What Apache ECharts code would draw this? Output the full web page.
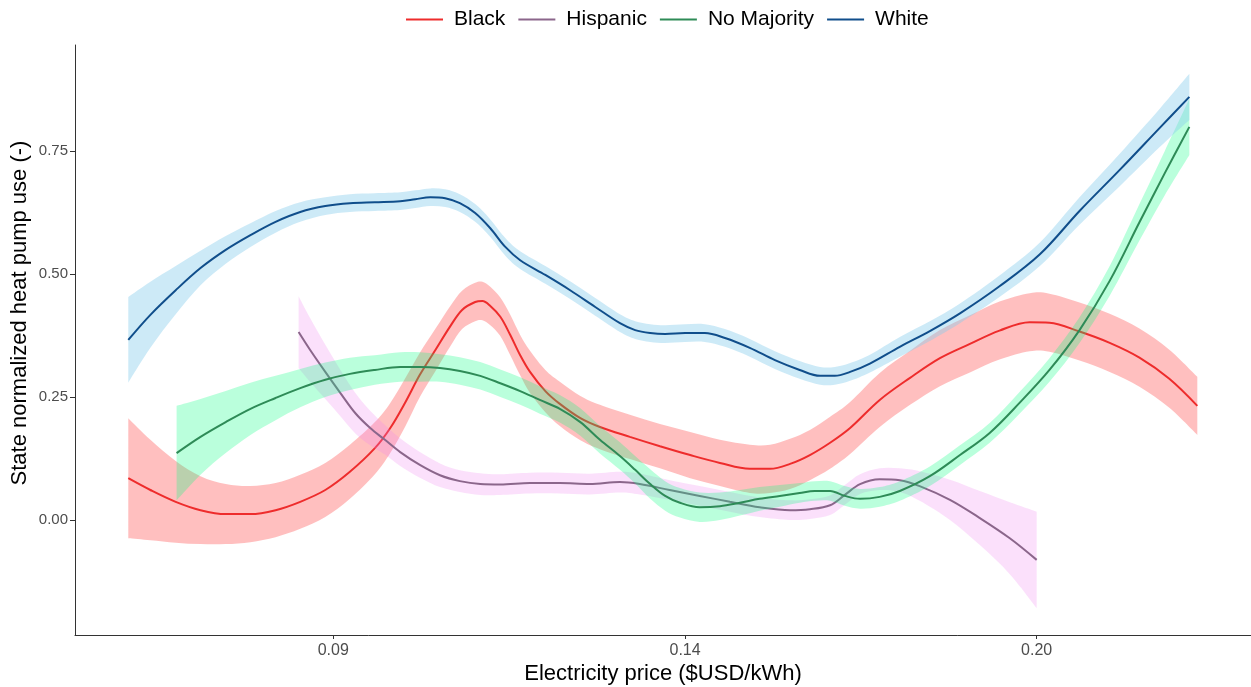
<!DOCTYPE html>
<html>
<head>
<meta charset="utf-8">
<script src="https://cdn.jsdelivr.net/npm/echarts@6/dist/echarts.min.js"></script>
<style>
html,body{margin:0;padding:0;background:#ffffff;}
#chart{width:1251px;height:687px;}
</style>
</head>
<body>
<div id="chart"></div>
<script>
// ---------------- data ----------------
const groups = ['Black', 'Hispanic', 'No Majority', 'White'];

// Black
const blackPrice = [0.0661,0.0685,0.0713,0.0741,0.0770,0.0799,0.0829,0.0859,0.0890,0.0921,
  0.0953,0.0973,0.0993,0.1012,0.1033,0.1053,0.1069,0.1087,0.1097,0.1108,
  0.1122,0.1136,0.1150,0.1164,0.1186,0.1207,0.1237,0.1266,0.1311,0.1357,
  0.1404,0.1451,0.1499,0.1532,0.1565,0.1598,0.1632,0.1666,0.1717,0.1770,
  0.1823,0.1877,0.1931,0.1987,0.2024,0.2081,0.2139,0.2197,0.2256,0.2312];
const blackFit = [0.085,0.061,0.037,0.020,0.012,0.012,0.020,0.037,0.061,0.098,
  0.146,0.187,0.240,0.295,0.346,0.394,0.427,0.443,0.445,0.435,
  0.413,0.376,0.335,0.301,0.262,0.236,0.207,0.189,0.169,0.150,
  0.132,0.116,0.104,0.104,0.114,0.132,0.157,0.187,0.244,0.289,
  0.329,0.358,0.385,0.402,0.401,0.383,0.360,0.330,0.287,0.232];
const blackCI = [0.122,0.102,0.083,0.069,0.061,0.057,0.055,0.055,0.055,0.055,
  0.053,0.051,0.049,0.045,0.043,0.041,0.039,0.039,0.039,0.039,
  0.039,0.041,0.041,0.043,0.043,0.045,0.045,0.045,0.045,0.045,
  0.047,0.047,0.049,0.049,0.051,0.051,0.053,0.053,0.055,0.055,
  0.057,0.058,0.059,0.059,0.059,0.059,0.059,0.059,0.059,0.059];

// Hispanic
const hispanicPrice = [0.0857,0.0871,0.0890,0.0909,0.0928,0.0947,0.0966,0.0986,0.1012,0.1039,
  0.1066,0.1094,0.1122,0.1164,0.1207,0.1251,0.1296,0.1326,0.1372,0.1419,
  0.1467,0.1515,0.1565,0.1598,0.1632,0.1657,0.1683,0.1717,0.1752,0.1787,
  0.1841,0.1895,0.1950,0.2000];
const hispanicFit = [0.382,0.346,0.301,0.258,0.217,0.187,0.163,0.138,0.112,0.091,
  0.079,0.073,0.072,0.075,0.075,0.073,0.077,0.073,0.061,0.049,
  0.037,0.026,0.020,0.022,0.030,0.051,0.073,0.083,0.081,0.069,
  0.041,0.004,-0.037,-0.081];
const hispanicCI = [0.073,0.065,0.055,0.047,0.041,0.035,0.030,0.028,0.026,0.024,
  0.022,0.022,0.021,0.021,0.021,0.021,0.021,0.021,0.020,0.020,
  0.020,0.020,0.020,0.020,0.020,0.020,0.020,0.022,0.024,0.030,
  0.041,0.055,0.073,0.098];

// No Majority
const noMajPrice = [0.0714,0.0741,0.0770,0.0799,0.0829,0.0859,0.0890,0.0921,0.0953,0.0986,
  0.1012,0.1039,0.1066,0.1094,0.1122,0.1150,0.1178,0.1207,0.1237,0.1266,
  0.1296,0.1319,0.1342,0.1365,0.1388,0.1419,0.1451,0.1483,0.1515,0.1548,
  0.1581,0.1606,0.1632,0.1657,0.1683,0.1717,0.1752,0.1805,0.1859,0.1913,
  0.1968,0.2024,0.2081,0.2139,0.2197,0.2247,0.2296];
const noMajFit = [0.136,0.169,0.199,0.226,0.248,0.268,0.285,0.297,0.305,0.311,
  0.311,0.309,0.303,0.293,0.278,0.262,0.244,0.226,0.199,0.163,
  0.130,0.102,0.073,0.049,0.035,0.026,0.028,0.035,0.043,0.049,
  0.055,0.059,0.059,0.049,0.043,0.047,0.059,0.089,0.132,0.177,
  0.238,0.305,0.386,0.486,0.605,0.705,0.799];
const noMajCI = [0.096,0.077,0.063,0.053,0.045,0.039,0.035,0.033,0.030,0.030,
  0.030,0.028,0.028,0.028,0.028,0.028,0.028,0.028,0.028,0.028,
  0.028,0.028,0.030,0.030,0.030,0.030,0.028,0.026,0.024,0.022,
  0.020,0.020,0.020,0.020,0.020,0.020,0.020,0.020,0.020,0.020,
  0.022,0.024,0.026,0.030,0.037,0.045,0.057];

// White
const whitePrice = [0.0661,0.0685,0.0713,0.0741,0.0770,0.0799,0.0829,0.0859,0.0890,0.0921,
  0.0953,0.0986,0.1006,0.1026,0.1046,0.1066,0.1087,0.1108,0.1129,0.1150,
  0.1186,0.1222,0.1259,0.1296,0.1319,0.1342,0.1365,0.1396,0.1427,0.1459,
  0.1499,0.1540,0.1581,0.1615,0.1640,0.1666,0.1700,0.1752,0.1805,0.1859,
  0.1931,0.2006,0.2081,0.2158,0.2237,0.2296];
const whiteFit = [0.366,0.417,0.467,0.512,0.549,0.579,0.606,0.626,0.638,0.644,
  0.646,0.648,0.652,0.656,0.654,0.644,0.624,0.593,0.555,0.528,
  0.498,0.467,0.433,0.400,0.386,0.380,0.378,0.380,0.380,0.370,
  0.350,0.325,0.305,0.293,0.293,0.301,0.318,0.352,0.384,0.420,
  0.475,0.540,0.628,0.711,0.797,0.860];
const whiteCI = [0.087,0.067,0.049,0.035,0.028,0.024,0.022,0.020,0.018,0.018,
  0.018,0.018,0.018,0.018,0.018,0.018,0.018,0.018,0.018,0.018,
  0.018,0.018,0.018,0.018,0.018,0.018,0.018,0.018,0.018,0.018,
  0.018,0.018,0.018,0.018,0.018,0.018,0.018,0.020,0.020,0.020,
  0.022,0.024,0.028,0.033,0.039,0.047];

// axis ticks
const xTickPrices = [0.09, 0.1396, 0.20];
const xTickLabels = ['0.09', '0.14', '0.20'];
const xLimits = [0.06049, 0.24213];
const yTicks = [0, 0.25, 0.5, 0.75];
const yTickLabels = ['0.00', '0.25', '0.50', '0.75'];
const yLimits = [-0.2337, 0.9654];

// ---------------- styling ----------------
const lineColors = ['#EE2C2C', '#8B668B', '#2E8B57', '#104E8B'];
const fillColors = ['rgba(255,0,0,0.25)', 'rgba(238,130,238,0.25)', 'rgba(0,255,127,0.27)', 'rgba(135,206,235,0.42)'];
const FONT = '"Liberation Sans", Arial, Helvetica, sans-serif';
const Y_TITLE = 'State normalized heat pump use (-)';

const sets = [
  [blackPrice, blackFit, blackCI],
  [hispanicPrice, hispanicFit, hispanicCI],
  [noMajPrice, noMajFit, noMajCI],
  [whitePrice, whiteFit, whiteCI]
];

// x axis uses a square-root transformed price scale
const tx = p => Math.sqrt(p);

// Catmull-Rom style bezier segments through pixel points
function curveThrough(pts) {
  let d = '';
  for (let i = 0; i < pts.length - 1; i++) {
    const p0 = pts[Math.max(i - 1, 0)], p1 = pts[i], p2 = pts[i + 1], p3 = pts[Math.min(i + 2, pts.length - 1)];
    const c1x = p1[0] + (p2[0] - p0[0]) / 6, c1y = p1[1] + (p2[1] - p0[1]) / 6;
    const c2x = p2[0] - (p3[0] - p1[0]) / 6, c2y = p2[1] - (p3[1] - p1[1]) / 6;
    d += ' C' + c1x + ',' + c1y + ' ' + c2x + ',' + c2y + ' ' + p2[0] + ',' + p2[1];
  }
  return d;
}

const series = [];
sets.forEach(([price, fit, ci], i) => {
  series.push({
    name: groups[i] + ' CI', type: 'custom', silent: true, z: 2 + i * 2,
    data: price.map((p, k) => [tx(p), fit[k] - ci[k], fit[k] + ci[k]]),
    encode: { x: 0, y: [1, 2] },
    renderItem: (params, api) => {
      if (params.dataIndex !== 0) return null;
      const upper = price.map((p, k) => api.coord([tx(p), fit[k] + ci[k]]));
      const lower = price.map((p, k) => api.coord([tx(p), fit[k] - ci[k]])).reverse();
      const d = 'M' + upper[0][0] + ',' + upper[0][1] + curveThrough(upper) +
        ' L' + lower[0][0] + ',' + lower[0][1] + curveThrough(lower) + ' Z';
      return { type: 'path', shape: { pathData: d }, style: { fill: fillColors[i], stroke: null } };
    }
  });
  series.push({
    name: groups[i], type: 'line',
    data: price.map((p, k) => [tx(p), fit[k]]),
    symbol: 'none', smooth: 0.35,
    itemStyle: { color: lineColors[i] },
    lineStyle: { color: lineColors[i], width: 2 },
    z: 3 + i * 2
  });
});

const xTickPos = xTickPrices.map(tx);

const chart = echarts.init(document.getElementById('chart'), null, { renderer: 'canvas' });
chart.setOption({
  animation: false,
  backgroundColor: '#ffffff',
  textStyle: { fontFamily: FONT },
  grid: { left: 75, right: 0, top: 45, bottom: 52, containLabel: false, outerBoundsMode: 'none' },
  legend: {
    data: groups,
    left: 401, top: 4,
    icon: 'rect', itemWidth: 37, itemHeight: 2, itemGap: 13,
    textStyle: { fontSize: 21, color: '#000000', fontFamily: FONT, padding: [0, 0, 0, 6] }
  },
  graphic: [{
    type: 'text', x: 20, y: 313, rotation: Math.PI / 2, silent: true,
    style: { text: Y_TITLE, font: '22px ' + FONT, fill: '#000000', textAlign: 'center', textVerticalAlign: 'middle' }
  }],
  xAxis: {
    type: 'value',
    min: tx(xLimits[0]), max: tx(xLimits[1]),
    splitLine: { show: false },
    axisLine: { show: true, onZero: false, lineStyle: { color: '#333333', width: 1 } },
    axisTick: { show: true, customValues: xTickPos, length: 4, lineStyle: { color: '#333333' } },
    axisLabel: {
      customValues: xTickPos,
      formatter: v => {
        let best = 0;
        xTickPos.forEach((t, k) => { if (Math.abs(t - v) < Math.abs(xTickPos[best] - v)) best = k; });
        return xTickLabels[best];
      },
      color: '#4D4D4D', fontSize: 16, margin: 8, fontFamily: FONT
    },
    name: 'Electricity price ($USD/kWh)', nameLocation: 'middle', nameGap: 28, nameMoveOverlap: false,
    nameTextStyle: { fontSize: 22, color: '#000000', fontFamily: FONT }
  },
  yAxis: {
    type: 'value',
    min: yLimits[0], max: yLimits[1],
    splitLine: { show: false },
    axisLine: { show: true, onZero: false, lineStyle: { color: '#333333', width: 1 } },
    axisTick: { show: true, customValues: yTicks, length: 5, lineStyle: { color: '#333333' } },
    axisLabel: {
      customValues: yTicks,
      formatter: v => {
        let best = 0;
        yTicks.forEach((t, k) => { if (Math.abs(t - v) < Math.abs(yTicks[best] - v)) best = k; });
        return yTickLabels[best];
      },
      color: '#4D4D4D', fontSize: 15, margin: 7, fontFamily: FONT
    }
  },
  series: series
});
</script>
</body>
</html>
